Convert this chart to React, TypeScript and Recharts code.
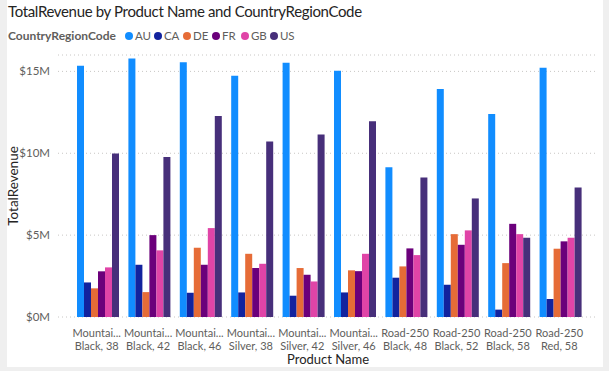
import { BarChart, Bar, XAxis, YAxis, CartesianGrid } from 'recharts';

const products = [
  'Mountain-200 Black, 38', 'Mountain-200 Black, 42', 'Mountain-200 Black, 46',
  'Mountain-200 Silver, 38', 'Mountain-200 Silver, 42', 'Mountain-200 Silver, 46',
  'Road-250 Black, 48', 'Road-250 Black, 52', 'Road-250 Black, 58', 'Road-250 Red, 58',
];
const line1 = [
  'Mountai...', 'Mountai...', 'Mountai...', 'Mountai...', 'Mountai...', 'Mountai...',
  'Road-250', 'Road-250', 'Road-250', 'Road-250',
];
const line2 = [
  'Black, 38', 'Black, 42', 'Black, 46', 'Silver, 38', 'Silver, 42', 'Silver, 46',
  'Black, 48', 'Black, 52', 'Black, 58', 'Red, 58',
];

// revenue in $M
const au = [15.35, 15.79, 15.55, 14.74, 15.53, 15.04, 9.15, 13.92, 12.40, 15.22];
const ca = [2.11, 3.19, 1.48, 1.50, 1.30, 1.50, 2.40, 1.97, 0.45, 1.10];
const de = [1.75, 1.52, 4.23, 3.86, 2.99, 2.85, 3.09, 5.06, 3.29, 4.17];
const fr = [2.79, 5.00, 3.19, 2.99, 2.58, 2.80, 4.19, 4.41, 5.69, 4.62];
const gb = [3.03, 4.07, 5.43, 3.25, 2.17, 3.86, 3.78, 5.29, 5.06, 4.84];
const us = [9.98, 9.77, 12.27, 10.71, 11.14, 11.95, 8.52, 7.24, 4.84, 7.91];

const yTicks = [0, 5, 10, 15];

const series = [
  { key: 'AU', color: '#118DFF' },
  { key: 'CA', color: '#12239E' },
  { key: 'DE', color: '#E66C37' },
  { key: 'FR', color: '#6B007B' },
  { key: 'GB', color: '#E044A7' },
  { key: 'US', color: '#472F7A' },
];

const data = products.map((p, i) => ({
  name: p, idx: i,
  AU: au[i], CA: ca[i], DE: de[i], FR: fr[i], GB: gb[i], US: us[i],
}));

const FONT = 'Lato, "Open Sans", sans-serif';

function XTick({ x, y, payload }: any) {
  const i = payload.index;
  return (
    <g>
      <text x={x} y={y + 12} textAnchor="middle" fontSize={11} fill="#605E5C" fontFamily={FONT}>{line1[i]}</text>
      <text x={x} y={y + 25} textAnchor="middle" fontSize={11} fill="#605E5C" fontFamily={FONT}>{line2[i]}</text>
    </g>
  );
}

export default function App() {
  return (
    <div style={{ position: 'fixed', left: 0, top: 0, width: 609, height: 371, background: '#EFEFEF', fontFamily: FONT }}>
      <div style={{ position: 'absolute', left: 7, top: 0, width: 596, height: 367, background: '#fff' }} />
      <div style={{ position: 'absolute', left: 8, top: 2, fontSize: 15, letterSpacing: -0.35, color: '#252423', whiteSpace: 'nowrap' }}>
        TotalRevenue by Product Name and CountryRegionCode
      </div>
      <div style={{ position: 'absolute', left: 8, top: 28, fontSize: 11.5, display: 'flex', alignItems: 'center', whiteSpace: 'nowrap' }}>
        <span style={{ fontWeight: 700, fontSize: 12, color: '#605E5C', marginRight: 9 }}>CountryRegionCode</span>
        {series.map(s => (
          <span key={s.key} style={{ display: 'inline-flex', alignItems: 'center', width: 29, color: '#605E5C' }}>
            <span style={{ width: 8, height: 8, borderRadius: 4, background: s.color, marginRight: 2 }} />
            {s.key}
          </span>
        ))}
      </div>
      <div style={{ position: 'absolute', left: 0, top: 50 }}>
        <BarChart
          width={603} height={317} data={data}
          margin={{ top: 5, right: 5, left: 0, bottom: 0 }}
          barCategoryGap={6} barGap={0}
        >
          <CartesianGrid horizontal vertical={false} stroke="#C8C6C4" strokeDasharray="1 3" />
          <XAxis
            dataKey="name" interval={0} tick={<XTick />} tickLine={false} axisLine={false}
            height={50} padding={{ left: 13, right: 13 }}
            label={{ value: 'Product Name', position: 'insideBottom', offset: 3, fill: '#252423', fontSize: 13, fontFamily: FONT }}
          />
          <YAxis
            width={58} domain={[0, 16]} ticks={yTicks} tickLine={false} axisLine={false}
            tick={{ fill: '#605E5C', fontSize: 11.5, fontFamily: FONT }}
            tickFormatter={(v: number) => `$${v}M`}
            label={({ viewBox }: any) => {
              const cy = viewBox.y + viewBox.height / 2;
              return (
                <text x={18} y={cy} transform={`rotate(-90, 18, ${cy})`} textAnchor="middle"
                  fontSize={13.5} fill="#252423" fontFamily={FONT}>TotalRevenue</text>
              );
            }}
          />
          {series.map(s => (
            <Bar key={s.key} dataKey={s.key} fill={s.color} isAnimationActive={false} />
          ))}
        </BarChart>
      </div>
    </div>
  );
}
